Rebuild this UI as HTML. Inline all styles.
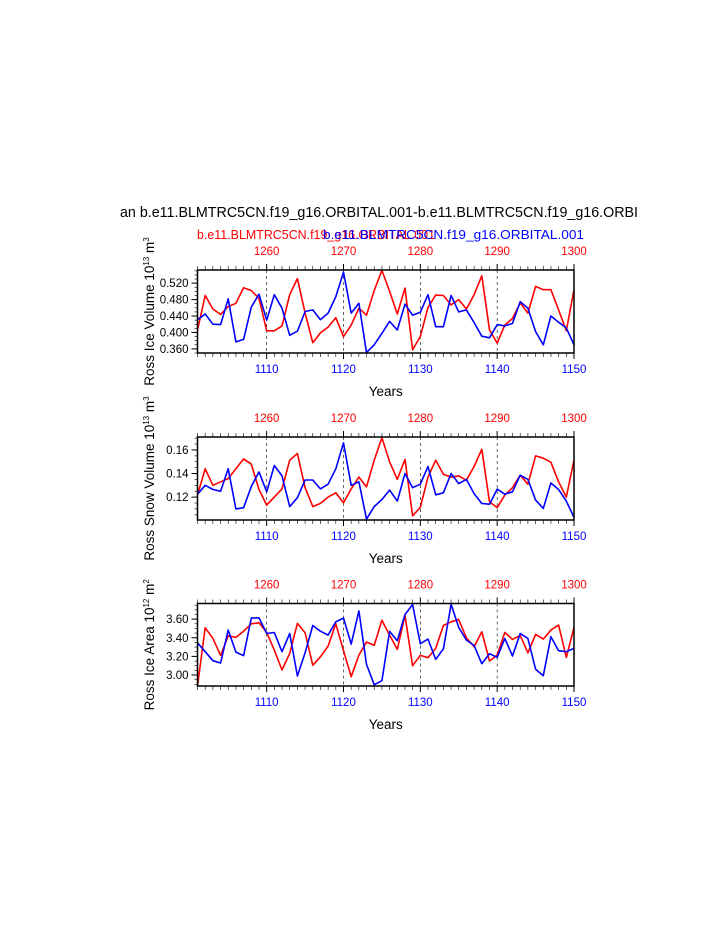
<!DOCTYPE html>
<html><head><meta charset="utf-8"><style>
body{margin:0;background:#fff;width:723px;height:935px;overflow:hidden;font-family:"Liberation Sans",sans-serif}
svg{display:block}
</style></head><body>
<svg id="chart" width="723" height="935" font-family="Liberation Sans, sans-serif">
<text x="120" y="217" font-size="14.5" fill="#000" textLength="518" lengthAdjust="spacingAndGlyphs">an b.e11.BLMTRC5CN.f19_g16.ORBITAL.001-b.e11.BLMTRC5CN.f19_g16.ORBI</text>
<text x="197" y="239" font-size="13" fill="#ff0000" textLength="238" lengthAdjust="spacingAndGlyphs">b.e11.BLMTRC5CN.f19_g16.ORBITAL.001</text>
<text x="323" y="239" font-size="13" fill="#0000ff" textLength="261" lengthAdjust="spacingAndGlyphs">b.e11.BLMTRC5CN.f19_g16.ORBITAL.001</text>
</svg>
<script>
const yearsBlue = Array.from({length:50},(_,i)=>1101+i);
const bottomTicks = [1110,1120,1130,1140,1150];
const topTicks = [1260,1270,1280,1290,1300];
const iceVolBlue=[0.431,0.445,0.420,0.419,0.482,0.377,0.383,0.462,0.493,0.430,0.492,0.459,0.393,0.403,0.451,0.455,0.431,0.447,0.487,0.547,0.447,0.471,0.351,0.370,0.398,0.427,0.406,0.469,0.442,0.449,0.492,0.414,0.414,0.490,0.450,0.455,0.424,0.391,0.387,0.419,0.416,0.422,0.475,0.459,0.402,0.370,0.440,0.425,0.411,0.370];
const iceVolRed=[0.406,0.490,0.457,0.444,0.463,0.471,0.509,0.502,0.483,0.404,0.404,0.416,0.492,0.531,0.447,0.375,0.399,0.413,0.436,0.390,0.418,0.459,0.442,0.502,0.551,0.500,0.445,0.508,0.358,0.390,0.461,0.491,0.490,0.467,0.480,0.457,0.492,0.538,0.406,0.374,0.418,0.434,0.472,0.447,0.512,0.504,0.504,0.455,0.404,0.504];
const snowVolBlue=[0.1225,0.130,0.1265,0.125,0.144,0.110,0.111,0.129,0.1414,0.1245,0.1468,0.138,0.112,0.1195,0.1345,0.1345,0.127,0.131,0.144,0.166,0.130,0.133,0.1014,0.112,0.118,0.126,0.1166,0.140,0.128,0.131,0.146,0.122,0.1237,0.140,0.1315,0.135,0.123,0.1146,0.114,0.1268,0.1225,0.1245,0.1386,0.135,0.1175,0.1104,0.132,0.1265,0.1166,0.1028];
const snowVolRed=[0.1217,0.144,0.130,0.133,0.1357,0.144,0.1524,0.148,0.1265,0.1132,0.120,0.127,0.1513,0.157,0.128,0.112,0.1147,0.120,0.1237,0.1152,0.127,0.137,0.1287,0.1513,0.1704,0.150,0.135,0.152,0.1042,0.1113,0.137,0.1513,0.1394,0.137,0.138,0.1344,0.146,0.1606,0.116,0.111,0.1217,0.128,0.1386,0.131,0.155,0.153,0.1496,0.133,0.120,0.1513];
const areaBlue=[3.346,3.25,3.154,3.129,3.482,3.246,3.207,3.611,3.614,3.446,3.457,3.25,3.446,2.989,3.239,3.532,3.471,3.429,3.571,3.611,3.332,3.689,3.114,2.896,2.939,3.468,3.368,3.65,3.757,3.336,3.386,3.168,3.282,3.761,3.511,3.375,3.318,3.121,3.229,3.189,3.393,3.204,3.446,3.393,3.061,2.993,3.411,3.261,3.25,3.286];
const areaRed=[2.882,3.507,3.393,3.211,3.421,3.404,3.471,3.55,3.561,3.457,3.268,3.054,3.232,3.554,3.454,3.104,3.196,3.311,3.55,3.261,2.982,3.214,3.354,3.318,3.589,3.429,3.275,3.639,3.1,3.211,3.186,3.286,3.532,3.571,3.596,3.4,3.304,3.464,3.15,3.214,3.457,3.382,3.425,3.239,3.436,3.386,3.482,3.536,3.189,3.511];
const volTicks=[0.360,0.400,0.440,0.480,0.520];
const snowTicks=[0.12,0.14,0.16];
const areaTicks=[3.00,3.20,3.40,3.60];

const NS='http://www.w3.org/2000/svg';
const svg=document.getElementById('chart');
function mk(tag,attrs,parent){const e=document.createElementNS(NS,tag);for(const k in attrs)e.setAttribute(k,attrs[k]);(parent||svg).appendChild(e);return e;}
const X0=197.5,X1=574;
function xs(yr){return X0+(yr-1101)/(1150-1101)*(X1-X0);}

const panels=[
 {key:'ice-volume',top:270,bot:353,ymin:0.350,ymax:0.552,ticks:volTicks,minor:0.01,dec:3,blue:iceVolBlue,red:iceVolRed,label:'Ross Ice Volume 10',sup:'13',unit:' m',usup:'3'},
 {key:'snow-volume',top:437,bot:520,ymin:0.1006,ymax:0.171,ticks:snowTicks,minor:0.005,dec:2,blue:snowVolBlue,red:snowVolRed,label:'Ross Snow Volume 10',sup:'13',unit:' m',usup:'3'},
 {key:'ice-area',top:603.5,bot:686,ymin:2.882,ymax:3.768,ticks:areaTicks,minor:0.05,dec:2,blue:areaBlue,red:areaRed,label:'Ross Ice Area 10',sup:'12',unit:' m',usup:'2'}
];
panels.forEach(p=>{
 const g=mk('g',{});
 
 
 const ys=v=>p.bot-(v-p.ymin)/(p.ymax-p.ymin)*(p.bot-p.top);
 [1110,1120,1130,1140].forEach(t=>{const l=mk('line',{x1:xs(t),x2:xs(t),y1:p.top,y2:p.bot,stroke:'#000','stroke-width':0.6,'stroke-dasharray':'3,3'},g);
  
  });
 for(let yr=1101;yr<=1150;yr++){const maj=(yr%10===0);const len=maj?6:4;
  mk('line',{x1:xs(yr),x2:xs(yr),y1:p.top,y2:p.top-len,stroke:'#000','stroke-width':maj?1:0.6},g);
  mk('line',{x1:xs(yr),x2:xs(yr),y1:p.bot,y2:p.bot+len,stroke:'#000','stroke-width':maj?1:0.6},g);}
 bottomTicks.forEach(t=>{const tx=mk('text',{x:xs(t),y:p.bot+20,'font-size':11.5,fill:'#0000ff','text-anchor':'middle'},g);tx.textContent=t;
  
  });
 topTicks.forEach(t=>{const tx=mk('text',{x:xs(t-150),y:p.top-15,'font-size':11.5,fill:'#ff0000','text-anchor':'middle'},g);tx.textContent=t;
  
  });
 const start=Math.ceil(p.ymin/p.minor-1e-6);
 for(let k=start;k*p.minor<=p.ymax+1e-9;k++){const v=k*p.minor;mk('line',{x1:X0,x2:X0-3,y1:ys(v),y2:ys(v),stroke:'#000','stroke-width':0.6},g);}
 p.ticks.forEach(t=>{mk('line',{x1:X0,x2:X0-6,y1:ys(t),y2:ys(t),stroke:'#000','stroke-width':1},g);
  const tx=mk('text',{x:X0-9,y:ys(t)+4,'font-size':11.5,fill:'#000','text-anchor':'end'},g);tx.textContent=t.toFixed(p.dec);
  
  });
 const pts=arr=>arr.map((v,i)=>xs(yearsBlue[i]).toFixed(1)+','+ys(v).toFixed(1)).join(' ');
 const r=mk('polyline',{points:pts(p.red),fill:'none',stroke:'#ff0000','stroke-width':1.6,'stroke-linejoin':'round'},g);
 
 
 const b=mk('polyline',{points:pts(p.blue),fill:'none',stroke:'#0000ff','stroke-width':1.6,'stroke-linejoin':'round'},g);
 
 
 const f=mk('rect',{x:X0,y:p.top,width:X1-X0,height:p.bot-p.top,fill:'none',stroke:'#000','stroke-width':1.5},g);
 
 
 const xt=mk('text',{x:(X0+X1)/2,y:p.bot+43,'font-size':13.5,fill:'#000','text-anchor':'middle'},g);xt.textContent='Years';
 
 
 const cy=(p.top+p.bot)/2;
 const yt=mk('text',{x:0,y:0,'font-size':13.5,fill:'#000','text-anchor':'middle',transform:`translate(154,${cy}) rotate(-90)`},g);
 
 
 yt.appendChild(document.createTextNode(p.label));
 const s1=mk('tspan',{'font-size':8,dy:-5},yt);s1.textContent=p.sup;
 const s2=mk('tspan',{dy:5},yt);s2.textContent=p.unit;
 const s3=mk('tspan',{'font-size':8,dy:-5},yt);s3.textContent=p.usup;
});
</script>
</body></html>
